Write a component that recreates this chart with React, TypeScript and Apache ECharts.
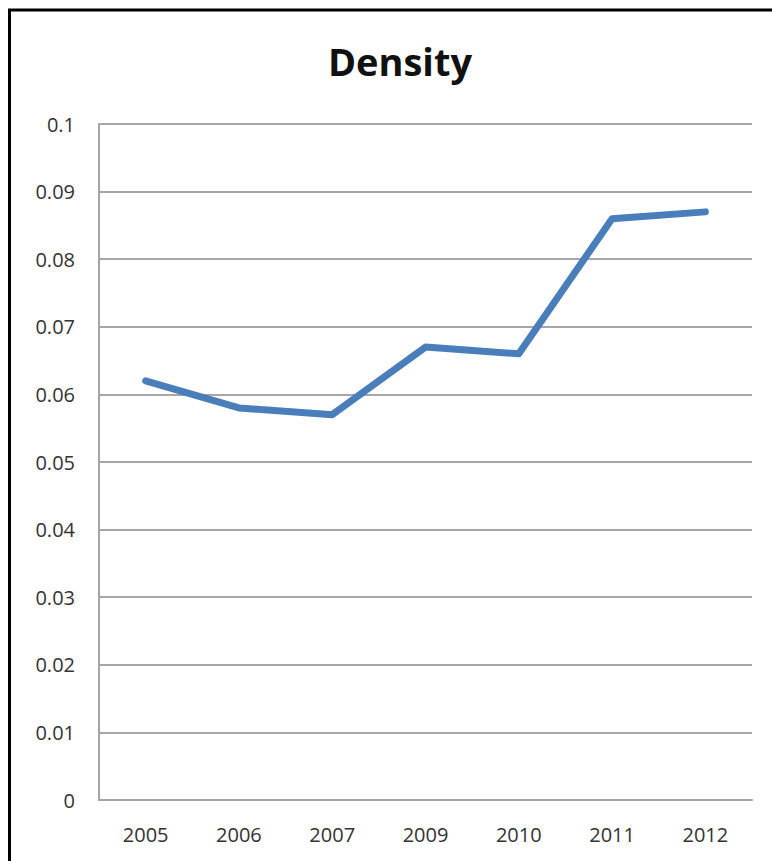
import React, { useEffect, useRef } from "react";
import * as echarts from "echarts";

const categories = ["2005", "2006", "2007", "2009", "2010", "2011", "2012"];
const densityValues = [0.062, 0.058, 0.057, 0.067, 0.066, 0.086, 0.087];
const chartTitle = "Density";

export default function App() {
  const ref = useRef<HTMLDivElement>(null);
  useEffect(() => {
    if (!ref.current) return;
    const chart = echarts.init(ref.current, null, { renderer: "svg" });
    chart.setOption({
      animation: false,
      backgroundColor: "#ffffff",
      title: {
        text: chartTitle,
        left: 395,
        textAlign: "center",
        top: 37,
        textStyle: {
          fontFamily: "Open Sans",
          fontWeight: "bold",
          fontSize: 38,
          color: "#111111",
        },
      },
      graphic: [
        {
          type: "rect",
          shape: { x: 9.5, y: 10, width: 800, height: 900 },
          style: { fill: "none", stroke: "#000000", lineWidth: 3 },
          silent: true,
        },
      ],
      grid: { left: 99, right: 20, top: 124, bottom: 61 },
      xAxis: {
        type: "category",
        data: categories,
        boundaryGap: true,
        axisLine: { show: true, lineStyle: { color: "#a6a6a6", width: 2 } },
        axisTick: { show: false },
        axisLabel: {
          margin: 24,
          fontFamily: "Open Sans",
          fontSize: 20,
          color: "#333333",
        },
        splitLine: { show: false },
      },
      yAxis: {
        type: "value",
        min: 0,
        max: 0.1,
        interval: 0.01,
        axisLine: { show: true, lineStyle: { color: "#a6a6a6", width: 2 } },
        axisTick: { show: false },
        axisLabel: {
          margin: 24,
          fontFamily: "Open Sans",
          fontSize: 20,
          color: "#333333",
          formatter: (v: number) => String(parseFloat(v.toFixed(2))),
        },
        splitLine: { show: true, lineStyle: { color: "#a6a6a6", width: 2 } },
      },
      series: [
        {
          type: "line",
          data: densityValues,
          showSymbol: false,
          symbol: "none",
          lineStyle: { color: "#4a7ebb", width: 7, cap: "round", join: "round" },
        },
      ],
    });
    return () => chart.dispose();
  }, []);
  return (
    <div
      ref={ref}
      style={{ position: "fixed", left: 0, top: 0, width: 772, height: 861 }}
    />
  );
}
